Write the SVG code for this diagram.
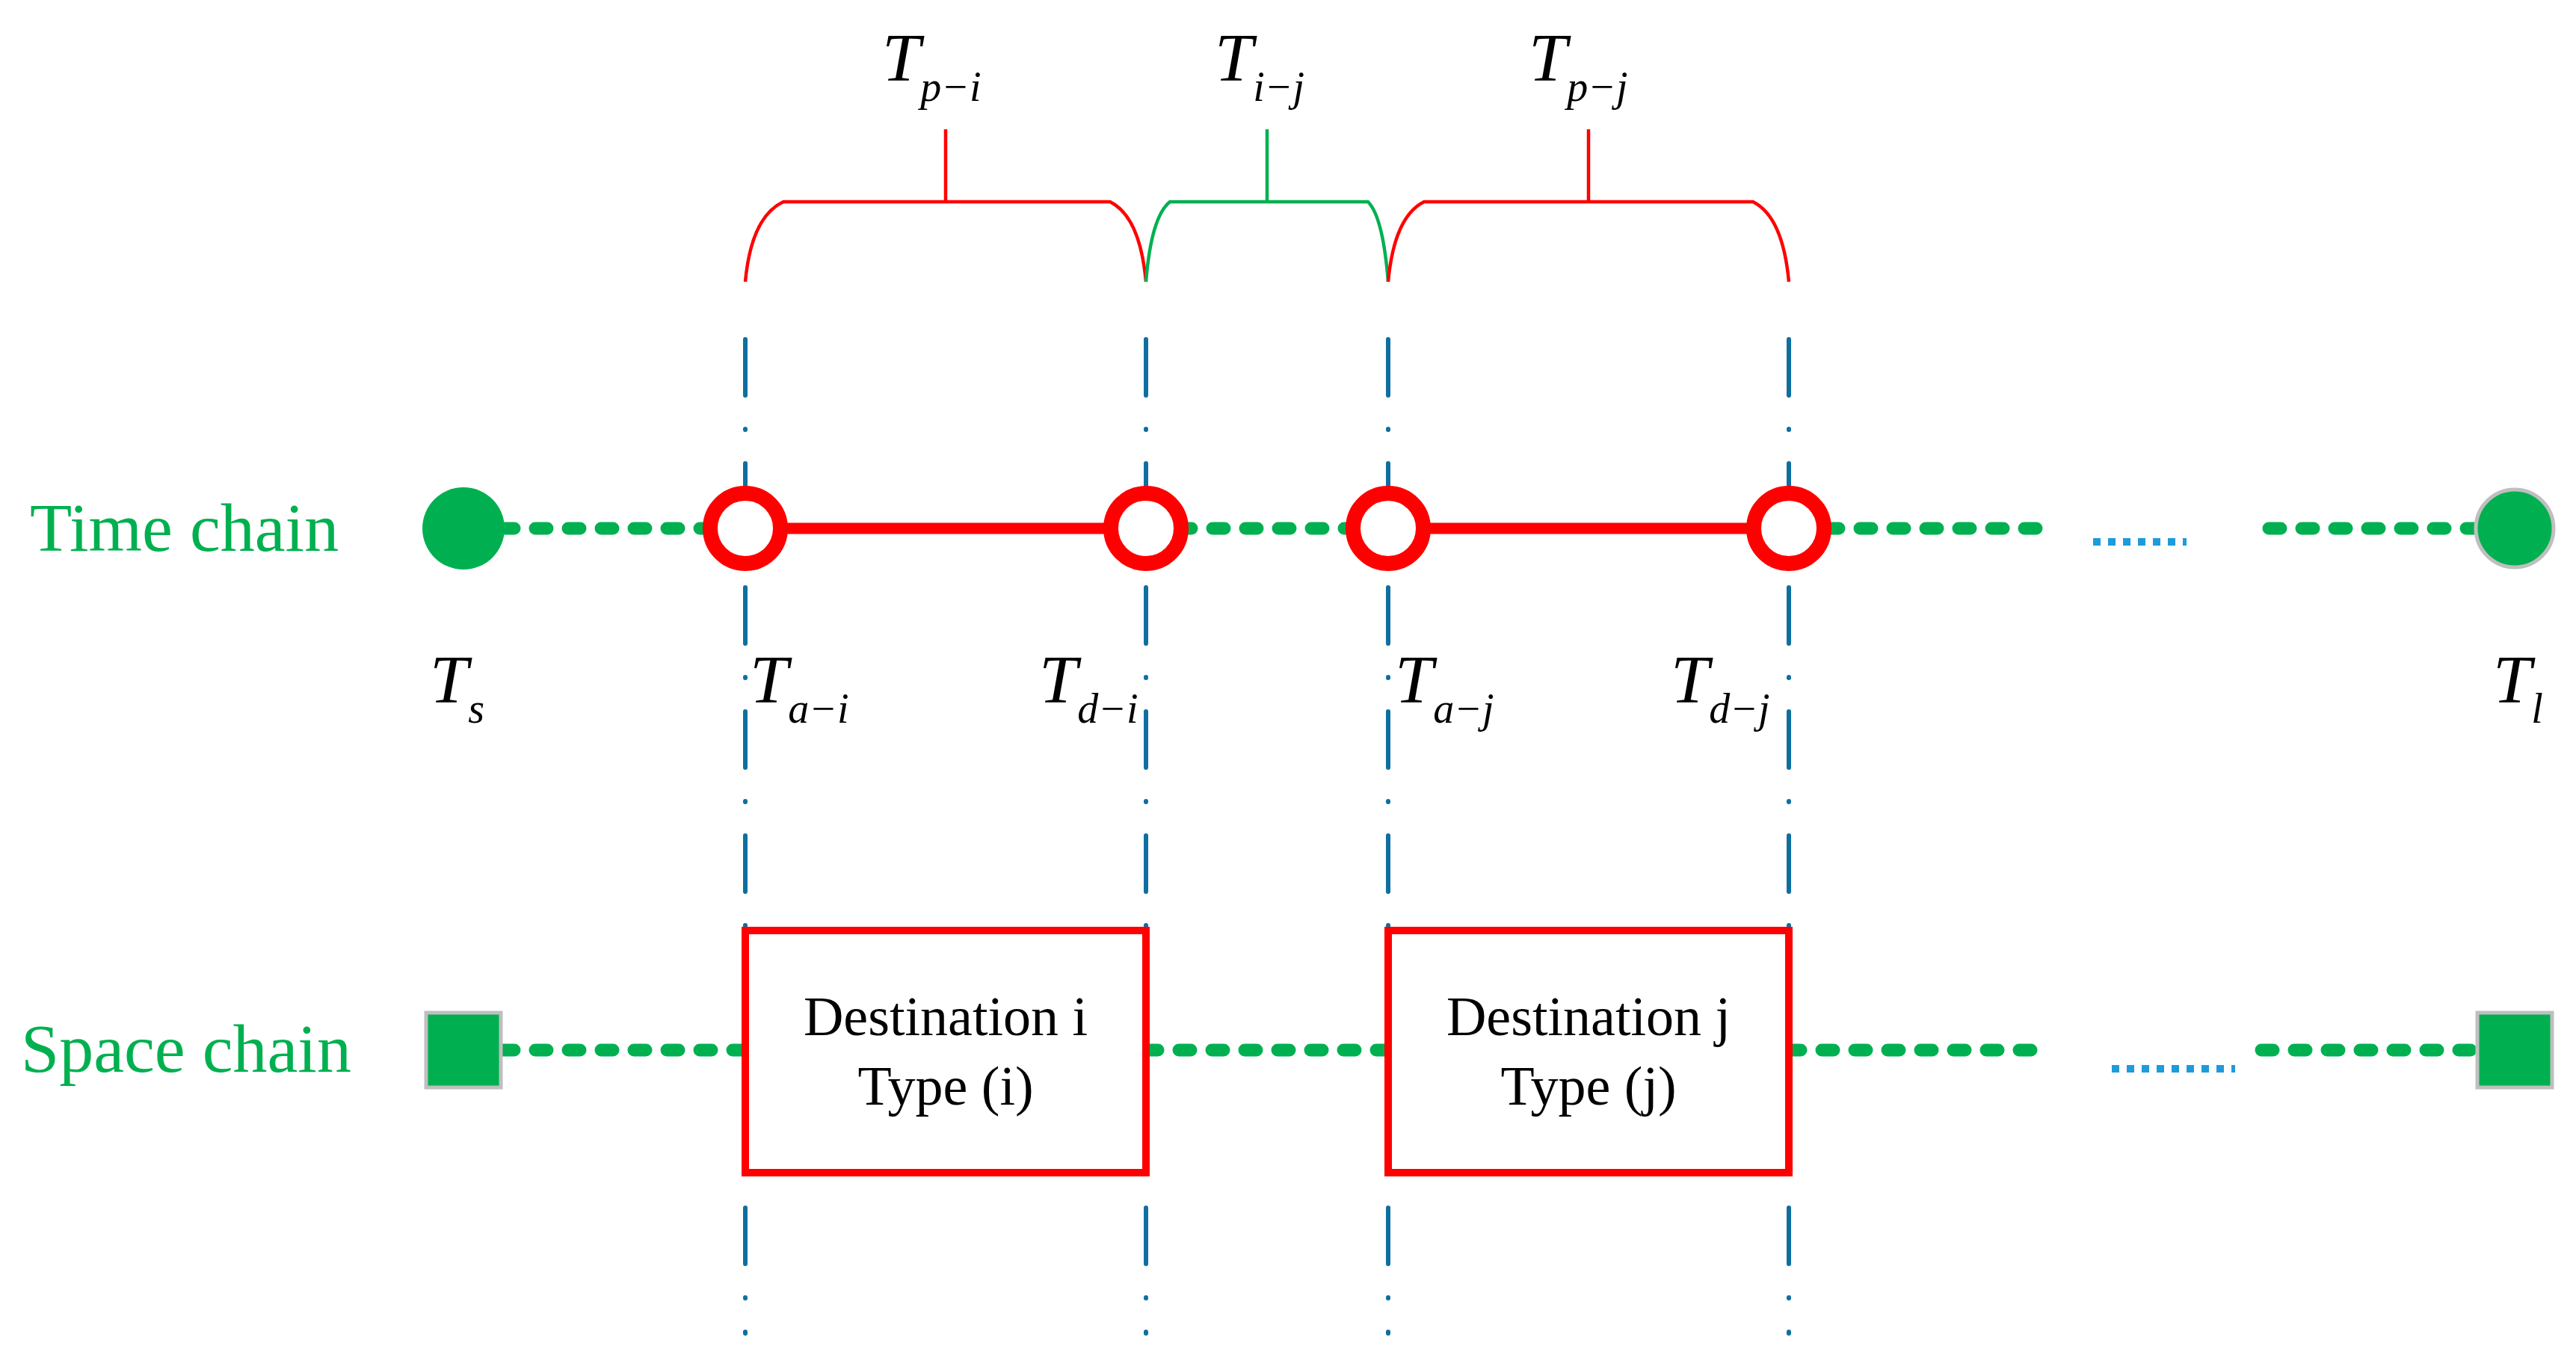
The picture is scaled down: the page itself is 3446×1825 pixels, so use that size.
<svg xmlns="http://www.w3.org/2000/svg" width="3446" height="1825" viewBox="0 0 3446 1825">
<style>
.g{fill:none;stroke:#00B050;stroke-width:17;stroke-linecap:round;stroke-dasharray:16 28}
.r{fill:none;stroke:#FF0000;stroke-width:15}
.v{fill:none;stroke:#0E6FA0;stroke-width:6;stroke-linecap:round;stroke-dasharray:75 45 1 45}
.bl{fill:none;stroke:#1E9BDB;stroke-width:10;stroke-dasharray:10 10}
.br{fill:none;stroke:#FF0000;stroke-width:4.5}
.bg{fill:none;stroke:#00B050;stroke-width:4.5}
.lab{font-family:"Liberation Serif",serif;font-size:92px;fill:#00B050}
.m{font-family:"Liberation Serif",serif;font-style:italic;font-size:92px;fill:#000}
.s{font-size:56px}
.bx{font-family:"Liberation Serif",serif;font-size:74px;fill:#000;text-anchor:middle}
</style>
<g id="connectors">
<line class="g" x1="672" y1="707" x2="950" y2="707"/>
<line class="r" x1="997" y1="707" x2="1533" y2="707"/>
<line class="g" x1="1578" y1="707" x2="1810" y2="707"/>
<line class="r" x1="1857" y1="707" x2="2393" y2="707"/>
<line class="g" x1="2444" y1="707" x2="2725" y2="707"/>
<line class="bl" x1="2800" y1="725" x2="2925" y2="725"/>
<line class="g" x1="3035" y1="707" x2="3312" y2="707"/>
<line class="g" x1="672" y1="1405" x2="997" y2="1405"/>
<line class="g" x1="1533" y1="1405" x2="1857" y2="1405"/>
<line class="g" x1="2393" y1="1405" x2="2725" y2="1405"/>
<line class="bl" x1="2825" y1="1430" x2="2990" y2="1430"/>
<line class="g" x1="3025" y1="1405" x2="3312" y2="1405"/>
<line class="v" x1="997" y1="454" x2="997" y2="1784"/>
<line class="v" x1="1533" y1="454" x2="1533" y2="1784"/>
<line class="v" x1="1857" y1="454" x2="1857" y2="1784"/>
<line class="v" x1="2393" y1="454" x2="2393" y2="1784"/>
</g>
<g id="brackets">
<path class="br" d="M997 377 Q1005 290 1048 270 H1485 Q1525 290 1533 377"/>
<line class="br" x1="1265" y1="270" x2="1265" y2="173"/>
<path class="bg" d="M1533 377 Q1540 290 1565 270 H1830 Q1850 290 1857 377"/>
<line class="bg" x1="1695" y1="270" x2="1695" y2="173"/>
<path class="br" d="M1857 377 Q1865 290 1905 270 H2345 Q2385 290 2393 377"/>
<line class="br" x1="2125" y1="270" x2="2125" y2="173"/>
<text class="m" x="1180" y="108">T<tspan class="s" dy="27">p−i</tspan></text>
<text class="m" x="1625" y="108">T<tspan class="s" dy="27">i−j</tspan></text>
<text class="m" x="2045" y="108">T<tspan class="s" dy="27">p−j</tspan></text>
</g>
<g id="time-start"><circle cx="620" cy="707" r="55" fill="#00B050"/></g>
<g id="ta-i"><circle cx="997" cy="707" r="47" fill="#fff" stroke="#FF0000" stroke-width="20"/></g>
<g id="td-i"><circle cx="1533" cy="707" r="47" fill="#fff" stroke="#FF0000" stroke-width="20"/></g>
<g id="ta-j"><circle cx="1857" cy="707" r="47" fill="#fff" stroke="#FF0000" stroke-width="20"/></g>
<g id="td-j"><circle cx="2393" cy="707" r="47" fill="#fff" stroke="#FF0000" stroke-width="20"/></g>
<g id="time-end"><circle cx="3364" cy="707" r="52" fill="#00B050" stroke="#BFBFBF" stroke-width="5"/></g>
<g id="space-start"><rect x="570" y="1355" width="100" height="100" fill="#00B050" stroke="#BFBFBF" stroke-width="5"/></g>
<g id="space-end"><rect x="3314" y="1355" width="100" height="100" fill="#00B050" stroke="#BFBFBF" stroke-width="5"/></g>
<g id="dest-i"><rect x="997" y="1245" width="536" height="324" fill="#fff" stroke="#FF0000" stroke-width="10"/>
<text class="bx" x="1265" y="1385">Destination i</text><text class="bx" x="1265" y="1478">Type (i)</text></g>
<g id="dest-j"><rect x="1857" y="1245" width="536" height="324" fill="#fff" stroke="#FF0000" stroke-width="10"/>
<text class="bx" x="2125" y="1385">Destination j</text><text class="bx" x="2125" y="1478">Type (j)</text></g>
<g id="labels">
<text class="lab" x="40" y="737">Time chain</text>
<text class="lab" x="28" y="1434">Space chain</text>
<text class="m" x="575" y="940">T<tspan class="s" dy="27">s</tspan></text>
<text class="m" x="1003" y="940">T<tspan class="s" dy="27">a−i</tspan></text>
<text class="m" x="1390" y="940">T<tspan class="s" dy="27">d−i</tspan></text>
<text class="m" x="1866" y="940">T<tspan class="s" dy="27">a−j</tspan></text>
<text class="m" x="2235" y="940">T<tspan class="s" dy="27">d−j</tspan></text>
<text class="m" x="3335" y="940">T<tspan class="s" dy="27">l</tspan></text>
</g>
</svg>
